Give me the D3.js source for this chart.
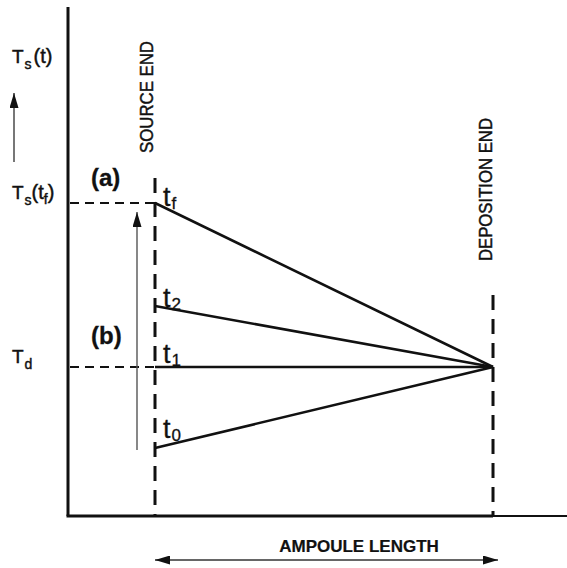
<!DOCTYPE html>
<html>
<head>
<meta charset="utf-8">
<script src="https://cdn.jsdelivr.net/npm/d3@7"></script>
<style>
  html, body { margin: 0; padding: 0; background: #fff; }
  svg { display: block; font-family: "Liberation Sans", Arial, Helvetica, sans-serif; }
  svg text { stroke: #111; stroke-width: 0.45px; }
</style>
</head>
<body>
<svg id="chart" width="567" height="568"></svg>
<script>
// Temperature profiles along the ampoule (arbitrary temperature units).
// Position 0 = source end, 1 = deposition end.
const profileNames = ["t0", "t1", "t2", "tf"];
const profileSubs  = ["0", "1", "2", "f"];
const sourceTemps  = [68, 149, 210, 313];   // T at the source end for each time
const depositionTemp = 149;                 // Td, held constant at the deposition end
const sourcePos = 0;
const depositionPos = 1;

// Reference levels marked on the temperature axis
const refLevels = [
  { value: 313, main: "T", sub: "s", tail: "(t", tailSub: "f", end: ")" },
  { value: 149, main: "T", sub: "d" }
];

const W = 567, H = 568;
const svg = d3.select("#chart");

// Scales: the frame spans from the temperature axis to the right edge
const x = d3.scaleLinear().domain([-0.2574, 1.2189]).range([68, 567]);
const y = d3.scaleLinear().domain([0, 509]).range([516, 7]);

const ink = "#111";

// Arrowhead markers
const defs = svg.append("defs");
function arrowMarker(id, len, half) {
  defs.append("marker")
    .attr("id", id)
    .attr("viewBox", `0 ${-half} ${len} ${2 * half}`)
    .attr("refX", len).attr("refY", 0)
    .attr("markerUnits", "userSpaceOnUse")
    .attr("markerWidth", len).attr("markerHeight", 2 * half)
    .attr("orient", "auto-start-reverse")
    .append("path")
    .attr("d", `M0,${-half}L${len},0L0,${half}Z`)
    .attr("fill", ink);
}
arrowMarker("arr", 15, 4.5);

// Axes (frame lines)
svg.append("line")
  .attr("x1", x(-0.2574)).attr("x2", x(-0.2574))
  .attr("y1", y(509)).attr("y2", y(0))
  .attr("stroke", ink).attr("stroke-width", 3);
svg.append("line")
  .attr("x1", x(-0.2574) - 1.5).attr("x2", x(depositionPos))
  .attr("y1", y(0)).attr("y2", y(0))
  .attr("stroke", ink).attr("stroke-width", 3);
svg.append("line")
  .attr("x1", x(depositionPos)).attr("x2", x(1.2189))
  .attr("y1", y(0)).attr("y2", y(0))
  .attr("stroke", ink).attr("stroke-width", 2.2);

// Source and deposition end markers (dashed verticals)
const ends = [
  { pos: sourcePos, top: 338 },
  { pos: depositionPos, top: 221 }
];
svg.selectAll("line.end").data(ends).join("line")
  .attr("class", "end")
  .attr("x1", d => x(d.pos)).attr("x2", d => x(d.pos))
  .attr("y1", d => y(d.top)).attr("y2", y(0))
  .attr("stroke", ink).attr("stroke-width", 3)
  .attr("stroke-dasharray", "15,9");

// Dashed reference levels from the axis to the source end
svg.selectAll("line.ref").data(refLevels).join("line")
  .attr("class", "ref")
  .attr("x1", x(-0.2574) + 2).attr("x2", x(sourcePos))
  .attr("y1", d => y(d.value)).attr("y2", d => y(d.value))
  .attr("stroke", ink).attr("stroke-width", 2)
  .attr("stroke-dasharray", "9,6");

// Temperature profiles
svg.selectAll("line.profile").data(sourceTemps).join("line")
  .attr("class", "profile")
  .attr("x1", x(sourcePos)).attr("x2", x(depositionPos))
  .attr("y1", d => y(d)).attr("y2", y(depositionTemp))
  .attr("stroke", ink).attr("stroke-width", 2.6)
  .attr("stroke-linecap", "butt");

// Profile labels t0, t1, t2, tf
const labelDy = [-10, -4, 1, 3];
const lbl = svg.selectAll("text.tlab").data(sourceTemps).join("text")
  .attr("class", "tlab")
  .attr("x", x(sourcePos) + 8)
  .attr("y", (d, i) => y(d) + labelDy[i])
  .attr("fill", ink)
  .style("stroke-width", "0.3px")
  .style("font-size", "27px");
lbl.append("tspan").text("t");
lbl.append("tspan").attr("dy", 3).attr("dx", 1).style("font-size", "17px")
  .text((d, i) => profileSubs[i]);

// Rise of the source temperature over time
svg.append("line")
  .attr("x1", 137).attr("x2", 137)
  .attr("y1", y(66)).attr("y2", y(304))
  .attr("stroke", "#555").attr("stroke-width", 1.4)
  .attr("marker-end", "url(#arr)");

// Temperature-axis direction arrow
svg.append("line")
  .attr("x1", 14).attr("x2", 14)
  .attr("y1", y(354)).attr("y2", y(423))
  .attr("stroke", "#555").attr("stroke-width", 1.6)
  .attr("marker-end", "url(#arr)");

// Ampoule length double arrow
svg.append("line")
  .attr("x1", x(sourcePos)).attr("x2", x(depositionPos) + 5)
  .attr("y1", 560).attr("y2", 560)
  .attr("stroke", "#333").attr("stroke-width", 1.5)
  .attr("marker-start", "url(#arr)")
  .attr("marker-end", "url(#arr)");

svg.append("text")
  .attr("x", (x(sourcePos) + x(depositionPos)) / 2 + 35)
  .attr("y", 552)
  .attr("text-anchor", "middle")
  .attr("font-weight", "bold")
  .style("font-size", "17px")
  .style("stroke-width", "0.2px")
  .attr("fill", ink)
  .text("AMPOULE LENGTH");

// End labels, rotated
svg.append("text")
  .attr("transform", `translate(${x(sourcePos) - 2},153) rotate(-90)`)
  .style("font-size", "17.5px").attr("fill", ink)
  .attr("textLength", 112).attr("lengthAdjust", "spacingAndGlyphs")
  .text("SOURCE END");
svg.append("text")
  .attr("transform", `translate(${x(depositionPos) - 1},261) rotate(-90)`)
  .style("font-size", "17.5px").attr("fill", ink)
  .attr("textLength", 143).attr("lengthAdjust", "spacingAndGlyphs")
  .text("DEPOSITION END");

// Axis title Ts(t)
const axTitle = svg.append("text").attr("x", 12).attr("y", 63)
  .attr("fill", ink).style("font-size", "19px");
axTitle.append("tspan").text("T");
axTitle.append("tspan").attr("dy", 6).attr("dx", 1).style("font-size", "14px").text("s");
axTitle.append("tspan").attr("dy", -6).attr("dx", 2).style("font-size", "20px").text("(t)");

// Reference level labels
refLevels.forEach(r => {
  const t = svg.append("text").attr("x", 12).attr("y", y(r.value) - 4)
    .attr("fill", ink).style("font-size", "19px");
  t.append("tspan").text(r.main);
  t.append("tspan").attr("dy", 6).attr("dx", 1).style("font-size", "14px").text(r.sub);
  if (r.tail) {
    t.append("tspan").attr("dy", -6).style("font-size", "20px").text(r.tail);
    t.append("tspan").attr("dy", 5).style("font-size", "14px").text(r.tailSub);
    t.append("tspan").attr("dy", -5).style("font-size", "20px").text(r.end);
  }
});

// Regime markers (a) and (b)
svg.append("text").attr("x", 91).attr("y", 186)
  .attr("font-weight", "bold").style("font-size", "24px").attr("fill", ink)
  .style("stroke-width", "0.3px")
  .text("(a)");
svg.append("text").attr("x", 91).attr("y", 344)
  .attr("font-weight", "bold").style("font-size", "24px").attr("fill", ink)
  .style("stroke-width", "0.3px")
  .text("(b)");
</script>
</body>
</html>
